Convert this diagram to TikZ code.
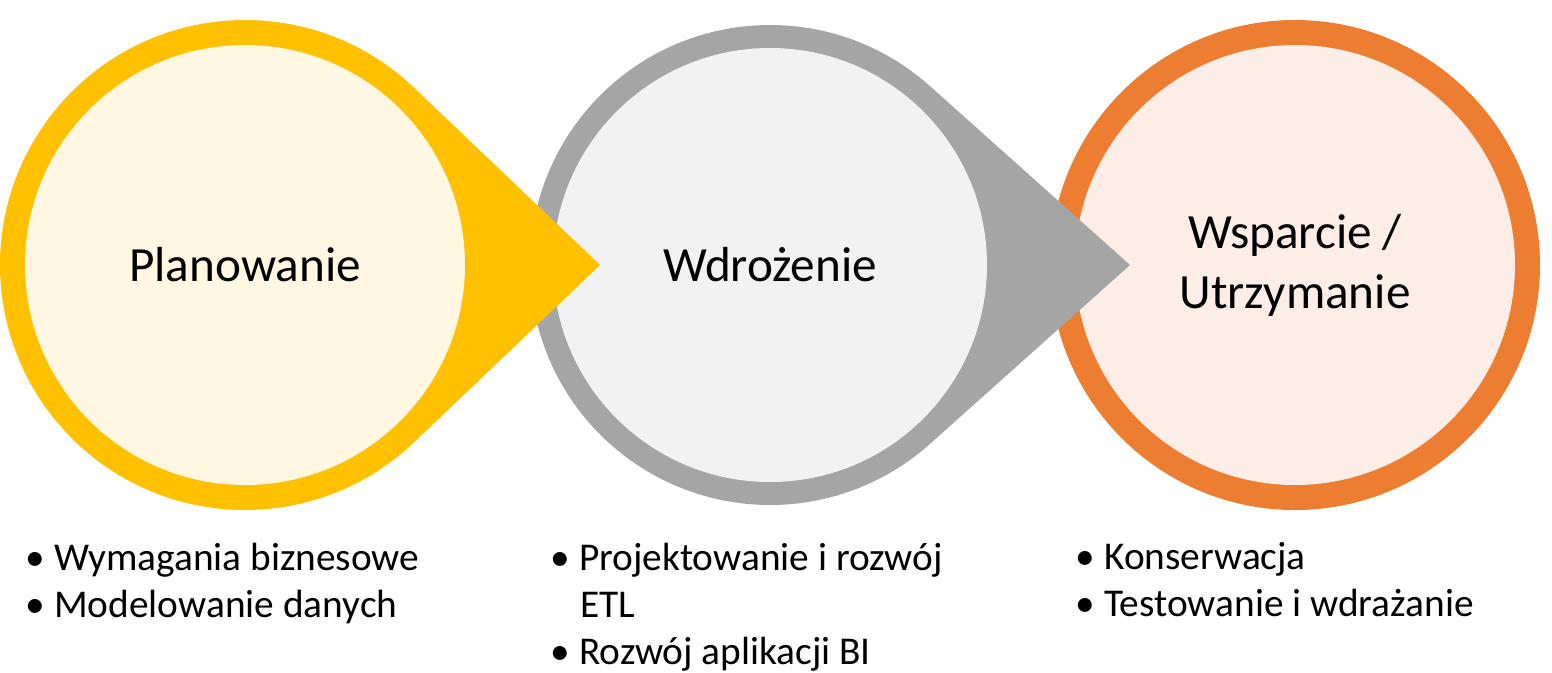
\documentclass[tikz,border=0pt]{standalone}
\usepackage{fontspec}
\setmainfont{Carlito}
\usepackage{xcolor}
\usetikzlibrary{positioning}
\definecolor{ringY}{HTML}{FFC000}
\definecolor{ringG}{HTML}{A5A5A5}
\definecolor{ringO}{HTML}{ED7D31}
\definecolor{fillY}{HTML}{FFF7E1}
\definecolor{fillG}{HTML}{F2F2F2}
\definecolor{fillO}{HTML}{FCEEE6}
\begin{document}
\begin{tikzpicture}[
	title/.style={font=\fontsize{14}{17}\selectfont, align=center},
	items/.style={font=\fontsize{11.2}{13.4}\selectfont, align=left, anchor=north west, inner sep=0pt}
]
\useasboundingbox (0,0) rectangle (15.52,-6.72);

% Wsparcie
\fill[ringO] (12.95,-2.65) circle (2.45);
\fill[fillO] (12.95,-2.65) circle (2.2);
\node[title] (support) at (12.95,-2.65) {Wsparcie /\\Utrzymanie};

% Wdrozenie
\fill[ringG] (7.70,-2.65) ++(48.2:2.4) arc[start angle=48.2, end angle=311.8, radius=2.4] -- (11.30,-2.65) -- cycle;
\fill[fillG] (7.70,-2.65) circle (2.17);
\node[title] (impl) at (7.70,-2.65) {Wdrożenie};

% Planowanie
\fill[ringY] (2.45,-2.65) ++(46.4:2.45) arc[start angle=46.4, end angle=313.6, radius=2.45] -- (6.00,-2.65) -- cycle;
\fill[fillY] (2.45,-2.65) circle (2.2);
\node[title] (plan) at (2.45,-2.65) {Planowanie};

% listy
\node[items] (planList) at (0.25,-5.42) {\textbullet\ Wymagania biznesowe\\\textbullet\ Modelowanie danych};
\node[items] (implList) at (5.50,-5.42) {\textbullet\ Projektowanie i rozwój\\\hspace*{0.75em}ETL\\\textbullet\ Rozwój aplikacji BI};
\node[items] (supportList) at (10.75,-5.42) {\textbullet\ Konserwacja\\\textbullet\ Testowanie i wdrażanie};
\end{tikzpicture}
\end{document}
